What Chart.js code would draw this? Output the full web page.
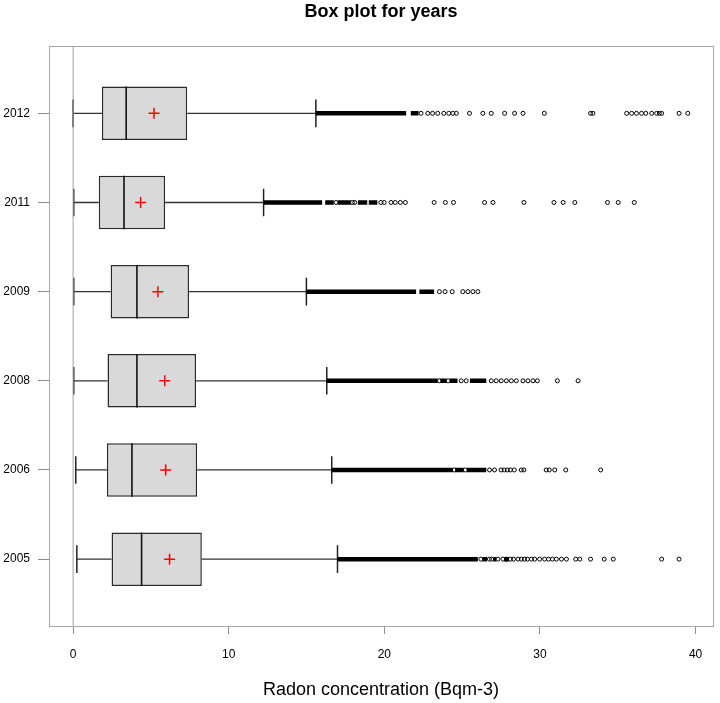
<!DOCTYPE html>
<html>
<head>
<meta charset="utf-8">
<script src="https://cdn.jsdelivr.net/npm/chart.js@4.4.1/dist/chart.umd.min.js"></script>
<style>
html,body{margin:0;padding:0;background:#ffffff;}
#wrap{width:720px;height:703px;}
</style>
</head>
<body>
<div id="wrap"><canvas id="c" width="720" height="703"></canvas></div>
<script>
// ---------- data ----------
const years = ['2012', '2011', '2009', '2008', '2006', '2005'];
const positions = [6, 5, 4, 3, 2, 1];
const lowerWhisker = [0.00, 0.04, 0.04, 0.04, 0.17, 0.24];
const q1 = [1.85, 1.65, 2.41, 2.21, 2.17, 2.47];
const median = [3.41, 3.27, 4.10, 4.10, 3.78, 4.40];
const mean = [5.20, 4.34, 5.45, 5.89, 5.95, 6.20];
const q3 = [7.33, 5.91, 7.45, 7.90, 7.97, 8.27];
const upperWhisker = [15.60, 12.24, 14.99, 16.30, 16.62, 16.99];

// dense outlier runs (start, end) that render as a solid band
const dense2012 = [[15.60, 21.40], [21.70, 22.20]];
const dense2011 = [[12.24, 16.00], [16.20, 16.75], [17.00, 17.85], [18.30, 18.90], [19.00, 19.55]];
const dense2009 = [[14.99, 22.04], [22.25, 23.20]];
const dense2008 = [[16.30, 23.43], [23.60, 24.00], [24.20, 24.70], [25.50, 26.55]];
const dense2006 = [[16.62, 24.40], [24.55, 25.10], [25.30, 26.55]];
const dense2005 = [[16.99, 26.01], [26.30, 26.60], [27.00, 27.20], [27.70, 28.00]];

// individual outliers
const out2012 = [22.36, 22.79, 23.10, 23.43, 23.82, 24.14, 24.40, 24.63, 25.47, 26.33, 26.87, 27.73, 28.37, 28.91, 30.28, 33.25, 33.40, 35.57, 35.89, 36.20, 36.53, 36.80, 37.18, 37.50, 37.67, 37.82, 38.94, 39.50];
const out2011 = [16.90, 17.95, 18.10, 19.78, 19.99, 20.43, 20.70, 21.03, 21.35, 23.20, 23.92, 24.44, 26.44, 26.98, 28.97, 30.90, 31.49, 32.24, 34.34, 35.03, 36.06];
const out2009 = [23.54, 23.90, 24.36, 25.04, 25.37, 25.69, 26.01];
const out2008 = [23.54, 24.10, 24.94, 25.26, 26.87, 27.19, 27.51, 27.84, 28.16, 28.48, 28.91, 29.23, 29.55, 29.83, 31.12, 32.45];
const out2006 = [24.50, 25.20, 26.76, 27.08, 27.50, 27.70, 27.90, 28.10, 28.35, 28.80, 28.97, 30.40, 30.60, 30.95, 31.66, 33.90];
const out2005 = [26.20, 26.75, 26.90, 27.30, 27.62, 27.85, 28.10, 28.30, 28.59, 28.80, 29.00, 29.20, 29.45, 29.66, 29.98, 30.30, 30.55, 30.80, 31.05, 31.38, 31.70, 32.30, 32.56, 33.25, 34.13, 34.71, 37.82, 38.94];

const xTickValues = [0, 10, 20, 30, 40];
const chartTitle = 'Box plot for years';
const xTitle = 'Radon concentration (Bqm-3)';

// ---------- build datasets ----------
const denseRuns = [dense2012, dense2011, dense2009, dense2008, dense2006, dense2005];
const outliers = [out2012, out2011, out2009, out2008, out2006, out2005];
const X_MIN = -1.55, X_MAX = 41.12, Y_MIN = 0.25, Y_MAX = 6.755;
const BOX_HALF = 0.3, CAP_HALF = 0.155;
const GAP = {x: null, y: null};

const whiskerData = [], capData = [], medianData = [], denseData = [], outlierData = [], meanData = [];
years.forEach((yr, i) => {
  const p = positions[i];
  whiskerData.push({x: lowerWhisker[i], y: p}, {x: q1[i], y: p}, GAP,
                   {x: q3[i], y: p}, {x: upperWhisker[i], y: p}, GAP);
  capData.push({x: lowerWhisker[i], y: p - CAP_HALF}, {x: lowerWhisker[i], y: p + CAP_HALF}, GAP,
               {x: upperWhisker[i], y: p - CAP_HALF}, {x: upperWhisker[i], y: p + CAP_HALF}, GAP);
  medianData.push({x: median[i], y: p - BOX_HALF}, {x: median[i], y: p + BOX_HALF}, GAP);
  denseRuns[i].forEach(r => denseData.push({x: r[0], y: p}, {x: r[1], y: p}, GAP));
  outliers[i].forEach(v => outlierData.push({x: v, y: p}));
  meanData.push({x: mean[i], y: p});
});

const frame = {
  id: 'frame',
  beforeDatasetsDraw(chart) {
    const a = chart.chartArea, ctx = chart.ctx;
    ctx.save();
    ctx.strokeStyle = '#a6a6a6';
    ctx.lineWidth = 1;
    ctx.strokeRect(Math.round(a.left) + 0.5, Math.round(a.top) + 0.5,
                   Math.round(a.right - a.left), Math.round(a.bottom - a.top));
    ctx.restore();
  }
};

const lineDs = (data, color, width, order) => ({
  type: 'scatter', data, showLine: true, spanGaps: false, indexAxis: 'x',
  borderColor: color, borderWidth: width, pointRadius: 0, pointHoverRadius: 0,
  borderCapStyle: 'butt', order, clip: false
});

new Chart(document.getElementById('c'), {
  type: 'scatter',
  data: {
    datasets: [
      lineDs([{x: 0, y: Y_MIN}, {x: 0, y: Y_MAX}], '#a0a0a0', 1, 0),
      {type: 'scatter', data: meanData, indexAxis: 'x', pointStyle: 'cross', pointRadius: 5.5,
       borderColor: '#ff0000', borderWidth: 1.5, backgroundColor: '#ff0000', order: 1},
      lineDs(medianData, '#111111', 1.6, 2),
      {type: 'bar', indexAxis: 'y', data: years.map((y, i) => ({x: [q1[i], q3[i]], y: positions[i]})),
       backgroundColor: '#d9d9d9', borderColor: '#2a2a2a', borderWidth: 1.5, borderSkipped: false,
       barPercentage: 0.6, categoryPercentage: 1, order: 3},
      {type: 'scatter', data: outlierData, indexAxis: 'x', pointStyle: 'circle', pointRadius: 2,
       borderColor: '#000000', borderWidth: 1, backgroundColor: 'rgba(255,255,255,0)', order: 4},
      lineDs(denseData, '#000000', 4.5, 5),
      lineDs(capData, '#222222', 1.5, 6),
      lineDs(whiskerData, '#333333', 1.3, 7)
    ]
  },
  options: {
    responsive: false,
    animation: false,
    devicePixelRatio: 1,
    events: [],
    layout: {padding: {left: 0, right: 7, top: 0, bottom: 0}},
    plugins: {
      legend: {display: false},
      tooltip: {enabled: false},
      title: {
        display: true, text: chartTitle, fullSize: false, color: '#000',
        font: {family: 'Liberation Sans, Arial, sans-serif', size: 18, weight: 'bold'},
        padding: {top: 1, bottom: 23.4}
      }
    },
    scales: {
      x: {
        type: 'linear', min: X_MIN, max: X_MAX, offset: false,
        afterBuildTicks: s => { s.ticks = xTickValues.map(v => ({value: v})); },
        afterFit: s => { s.height = 77; },
        grid: {drawOnChartArea: false, drawTicks: true, tickLength: 8, tickColor: '#8c8c8c', tickWidth: 1, offset: false},
        border: {display: false},
        ticks: {padding: 13, color: '#000', font: {family: 'Liberation Sans, Arial, sans-serif', size: 12}, maxRotation: 0},
        title: {display: true, text: xTitle, color: '#000',
                font: {family: 'Liberation Sans, Arial, sans-serif', size: 18}, padding: {top: 0, bottom: 2}}
      },
      y: {
        type: 'linear', min: Y_MIN, max: Y_MAX, offset: false,
        afterBuildTicks: s => { s.ticks = positions.map(v => ({value: v})); },
        afterFit: s => { s.width = 49; },
        grid: {drawOnChartArea: false, drawTicks: true, tickLength: 11, tickColor: '#8c8c8c', tickWidth: 1, offset: false},
        border: {display: false},
        ticks: {padding: 8, color: '#000', font: {family: 'Liberation Sans, Arial, sans-serif', size: 12},
                callback: v => years[positions.indexOf(v)]}
      }
    }
  },
  plugins: [frame]
});
</script>
</body>
</html>
